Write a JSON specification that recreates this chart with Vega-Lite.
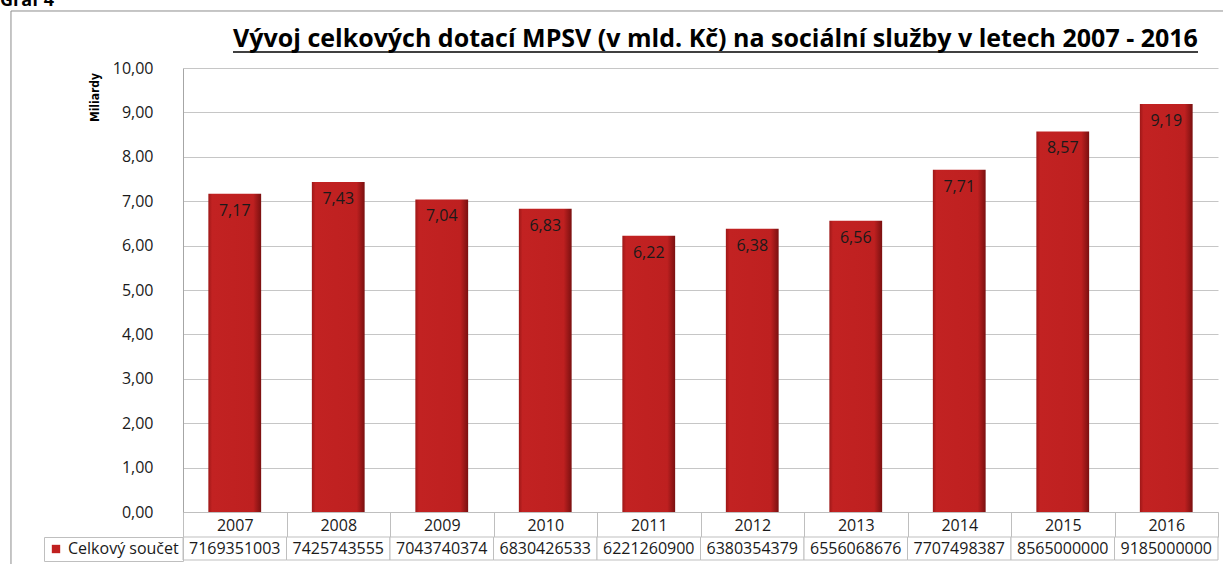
{
  "$schema": "https://vega.github.io/schema/vega-lite/v6.json",
  "autosize": {"type": "pad"},
  "padding": {"left": 0, "top": -8, "right": 0, "bottom": 0},
  "background": "white",
  "config": {
    "font": "Open Sans",
    "locale": {"number": {"decimal": ",", "thousands": " ", "grouping": [3], "currency": ["", " Kč"]}},
    "view": {"stroke": null},
    "axis": {"labelFont": "Open Sans", "labelFontSize": 16, "labelColor": "#1a1a1a"}
  },
  "datasets": {
    "dotace": [
      {"year": "2007", "total": 7169351003, "mld": 7.17, "series": "Celkový součet"},
      {"year": "2008", "total": 7425743555, "mld": 7.43, "series": "Celkový součet"},
      {"year": "2009", "total": 7043740374, "mld": 7.04, "series": "Celkový součet"},
      {"year": "2010", "total": 6830426533, "mld": 6.83, "series": "Celkový součet"},
      {"year": "2011", "total": 6221260900, "mld": 6.22, "series": "Celkový součet"},
      {"year": "2012", "total": 6380354379, "mld": 6.38, "series": "Celkový součet"},
      {"year": "2013", "total": 6556068676, "mld": 6.56, "series": "Celkový součet"},
      {"year": "2014", "total": 7707498387, "mld": 7.71, "series": "Celkový součet"},
      {"year": "2015", "total": 8565000000, "mld": 8.57, "series": "Celkový součet"},
      {"year": "2016", "total": 9185000000, "mld": 9.19, "series": "Celkový součet"}
    ]
  },
  "spacing": 25,
  "bounds": "flush",
  "resolve": {"scale": {"color": "independent"}, "legend": {"color": "independent"}},
  "vconcat": [
    {
      "width": 1035,
      "height": 444,
      "data": {"name": "dotace"},
      "encoding": {
        "x": {
          "field": "year", "type": "ordinal",
          "scale": {"paddingInner": 0, "paddingOuter": 0},
          "axis": {
            "title": null, "tickBand": "extent", "tickSize": 25, "tickColor": "#bfbfbf",
            "domainColor": "#bfbfbf", "labelAngle": 0, "labelBaseline": "middle",
            "labelPadding": -12, "labelFontSize": 16, "grid": false
          }
        }
      },
      "layer": [
        {
          "mark": {
            "type": "bar", "width": {"band": 0.51},
            "color": {
              "gradient": "linear", "x1": 0, "y1": 0, "x2": 1, "y2": 0,
              "stops": [
                {"offset": 0, "color": "#9E1818"},
                {"offset": 0.07, "color": "#C22222"},
                {"offset": 0.85, "color": "#BE2020"},
                {"offset": 1, "color": "#7A1010"}
              ]
            }
          },
          "encoding": {
            "y": {
              "field": "mld", "type": "quantitative",
              "scale": {"domain": [0, 10], "nice": false},
              "axis": {
                "title": "Miliardy",
                "titleFont": "'DejaVu Sans Condensed', 'Liberation Sans Narrow', Roboto, sans-serif",
                "titleFontSize": 12,
                "titleFontWeight": "bold", "titleColor": "#000000", "titleAngle": 270,
                "titleX": -89, "titleY": 29, "titleAlign": "center", "titleBaseline": "middle",
                "values": [0, 1, 2, 3, 4, 5, 6, 7, 8, 9, 10], "format": ".2f",
                "labelPadding": 30, "ticks": false, "domainColor": "#a6a6a6",
                "gridColor": "#c6c6c6", "labelFontSize": 16
              }
            }
          }
        },
        {
          "mark": {"type": "text", "baseline": "middle", "dy": 17, "fontSize": 16, "color": "#1a1a1a"},
          "encoding": {
            "y": {"field": "mld", "type": "quantitative"},
            "text": {"field": "mld", "type": "quantitative", "format": ".2f"}
          }
        },
        {
          "data": {"values": [{"title": "Vývoj celkových dotací MPSV (v mld. Kč) na sociální služby v letech 2007 - 2016"}]},
          "mark": {"type": "text", "font": "Open Sans", "fontSize": 25, "fontWeight": "bold", "color": "#000000", "align": "center", "baseline": "alphabetic"},
          "encoding": {
            "text": {"field": "title", "type": "nominal"},
            "x": {"datum": "2012", "type": "ordinal", "bandPosition": 0.145},
            "y": {"datum": 10.473, "type": "quantitative"}
          }
        },
        {
          "data": {"values": [{"caption": "Graf 4"}]},
          "mark": {"type": "text", "font": "Open Sans", "fontSize": 18, "fontWeight": "bold", "color": "#000000", "align": "left", "baseline": "alphabetic"},
          "encoding": {
            "text": {"field": "caption", "type": "nominal"},
            "x": {"datum": "2007", "type": "ordinal", "bandPosition": -1.768},
            "y": {"datum": 11.396, "type": "quantitative"}
          }
        },
        {
          "data": {"values": [{}]},
          "mark": {"type": "rule", "color": "#000000", "strokeWidth": 1.5},
          "encoding": {
            "x": {"datum": "2007", "type": "ordinal", "bandPosition": 0.483},
            "x2": {"datum": "2016", "bandPosition": 0.807},
            "y": {"datum": 10.36, "type": "quantitative"}
          }
        },
        {
          "data": {"values": [{}]},
          "mark": {"type": "rect", "fill": null, "stroke": "#8c8c8c", "strokeWidth": 1},
          "encoding": {
            "x": {"datum": "2007", "type": "ordinal", "bandPosition": -1.662},
            "x2": {"datum": "2016", "bandPosition": 1.077},
            "y": {"datum": 11.284, "type": "quantitative"},
            "y2": {"datum": -1.239}
          }
        }
      ]
    },
    {
      "width": 1035,
      "height": 23,
      "data": {"name": "dotace"},
      "encoding": {
        "x": {"field": "year", "type": "ordinal", "scale": {"paddingInner": 0, "paddingOuter": 0}, "axis": null}
      },
      "layer": [
        {"mark": {"type": "rect", "fill": "white", "stroke": "#bfbfbf", "strokeWidth": 1}},
        {
          "mark": {"type": "rect", "opacity": 0},
          "encoding": {
            "color": {
              "field": "series", "type": "nominal",
              "scale": {"range": ["#C0201F"]},
              "legend": {
                "orient": "left", "offset": 0, "title": null, "strokeColor": "#bfbfbf",
                "padding": 4, "symbolType": "square", "symbolSize": 70, "symbolStrokeWidth": 0,
                "symbolOpacity": 1, "labelFontSize": 16, "labelColor": "#1a1a1a", "labelOffset": 4
              }
            }
          }
        },
        {
          "mark": {"type": "text", "fontSize": 16, "color": "#1a1a1a"},
          "encoding": {"text": {"field": "total", "type": "quantitative", "format": "d"}}
        }
      ]
    }
  ]
}
